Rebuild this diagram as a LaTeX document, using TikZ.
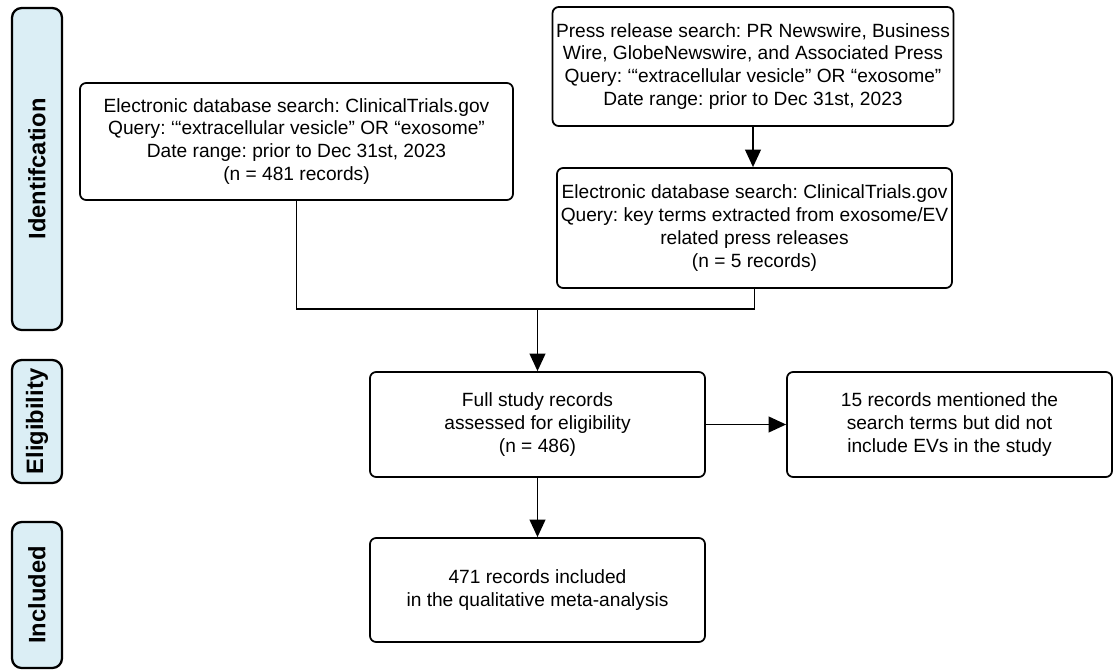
\documentclass[tikz,border=0pt]{standalone}
\usepackage{fontspec}
\setmainfont{Liberation Sans}
\usepackage{xcolor}
\usepackage{tikz}
\usetikzlibrary{arrows.meta, positioning}
\frenchspacing

\definecolor{stagefill}{RGB}{219,238,245}

\begin{document}
\begin{tikzpicture}[
            box/.style   ={rectangle, rounded corners=3.5pt, draw=black, line width=1pt,
                           align=center, inner sep=2pt,
                           font=\fontsize{10.9}{13.05}\selectfont},
            stage/.style ={rectangle, rounded corners=5.5pt, draw=black, line width=1.3pt,
                           fill=stagefill, minimum width=1.0cm},
            tag/.style   ={rotate=90, font=\fontsize{13.5}{16}\selectfont\bfseries},
            line/.style  ={line width=1pt},
            arrow/.style ={line width=1pt, -{Triangle[length=10pt, width=9pt]}}
        ]
        \useasboundingbox (0,0) rectangle (22.28,-13.42);

        % stage bars on the left
        \node[stage, minimum height=6.44cm] (ident) at (0.74,-3.38)  {};
        \node[stage, minimum height=2.46cm] (elig)  at (0.74,-8.43)  {};
        \node[stage, minimum height=2.92cm] (incl)  at (0.74,-11.90) {};
        \node[tag] (identtag) at (ident) {Identifcation};
        \node[tag] (eligtag)  at (elig)  {Eligibility};
        \node[tag] (incltag)  at (incl)  {Included};

        % boxes
        \node[box, minimum width=8.66cm, minimum height=2.34cm] (ctgov) at (5.93,-2.83)
            {Electronic database search: ClinicalTrials.gov\\
             Query: ‘“extracellular vesicle” OR “exosome”\\
             Date range: prior to Dec 31st, 2023\\
             (n = 481 records)};
        \node[box, minimum width=7.88cm, minimum height=2.38cm] (press) at (15.06,-1.33)
            {Press release search: PR Newswire, Business\\
             Wire, GlobeNewswire, and Associated Press\\
             Query: ‘“extracellular vesicle” OR “exosome”\\
             Date range: prior to Dec 31st, 2023};
        \node[box, minimum width=7.90cm, minimum height=2.40cm] (terms) at (15.09,-4.56)
            {Electronic database search: ClinicalTrials.gov\\
             Query: key terms extracted from exosome/EV\\
             related press releases\\
             (n = 5 records)};
        \node[box, minimum width=6.70cm, minimum height=2.10cm] (full)  at (10.75,-8.49)
            {Full study records\\
             assessed for eligibility\\
             (n = 486)};
        \node[box, minimum width=6.50cm, minimum height=2.10cm] (excl)  at (18.99,-8.49)
            {15 records mentioned the\\
             search terms but did not\\
             include EVs in the study};
        \node[box, minimum width=6.70cm, minimum height=2.08cm] (final) at (10.75,-11.80)
            {471 records included\\
             in the qualitative meta-analysis};

        \coordinate (join) at (10.75,-6.18);

        \draw[arrow] (press.south) -- (press.south |- terms.north);
        \draw[line]  (ctgov.south) |- (terms.south |- join) -- (terms.south);
        \draw[arrow] (join)  -- (full);
        \draw[arrow] (full)  -- (excl);
        \draw[arrow] (full)  -- (final);
        \end{tikzpicture}
\end{document}
